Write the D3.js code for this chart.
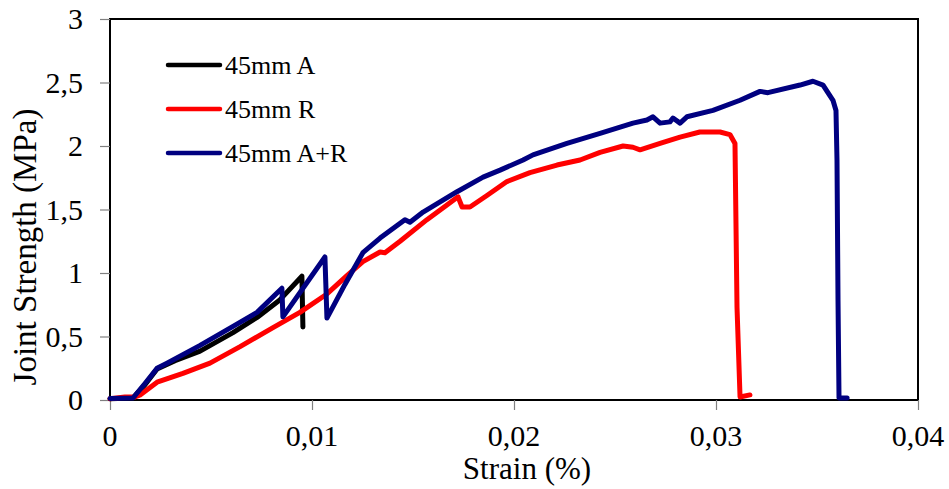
<!DOCTYPE html>
<html>
<head>
<meta charset="utf-8">
<script src="https://cdn.jsdelivr.net/npm/d3@7/dist/d3.min.js"></script>
<style>
  html, body { margin: 0; padding: 0; background: #fff; }
  svg { display: block; }
</style>
</head>
<body>
<svg id="chart" width="949" height="489"></svg>
<script>
// ---------- data ----------
const seriesNames = ["45mm A", "45mm R", "45mm A+R"];
const seriesColors = ["#000000", "#ff0000", "#000080"];

const strainA   = [0, 0.00114, 0.00173, 0.00233, 0.00322, 0.00446, 0.00609, 0.00728, 0.00842, 0.0095, 0.00955];
const strengthA = [0.01, 0.016, 0.12, 0.245, 0.31, 0.385, 0.53, 0.65, 0.79, 0.975, 0.575];

const strainR   = [0, 0.00074, 0.00124, 0.00149, 0.00233, 0.00361, 0.00495, 0.00644, 0.00807, 0.0094, 0.01074, 0.01173, 0.01252, 0.01337, 0.01361, 0.01436, 0.01569, 0.01668, 0.01723, 0.01743, 0.01782, 0.01866, 0.01965, 0.02079, 0.02213, 0.02327, 0.02426, 0.0254, 0.02589, 0.02624, 0.02723, 0.02822, 0.0292, 0.0302, 0.03069, 0.03094, 0.03104, 0.03119, 0.03168];
const strengthR = [0.01, 0.024, 0.024, 0.04, 0.14, 0.21, 0.29, 0.42, 0.57, 0.69, 0.835, 0.98, 1.09, 1.165, 1.16, 1.25, 1.42, 1.535, 1.60, 1.52, 1.52, 1.61, 1.72, 1.79, 1.85, 1.89, 1.95, 2.0, 1.99, 1.97, 2.02, 2.07, 2.11, 2.11, 2.09, 2.02, 0.73, 0.024, 0.04];

const strainAR   = [0, 0.00114, 0.00173, 0.00233, 0.00282, 0.00446, 0.00609, 0.00728, 0.00851, 0.00856, 0.01064, 0.01074, 0.01163, 0.01252, 0.01337, 0.0146, 0.01485, 0.0155, 0.01718, 0.01847, 0.01931, 0.02045, 0.02094, 0.02262, 0.02426, 0.02589, 0.02658, 0.02688, 0.02723, 0.02772, 0.02787, 0.02822, 0.02856, 0.02985, 0.03119, 0.03218, 0.03257, 0.03416, 0.0348, 0.0353, 0.03554, 0.03579, 0.03594, 0.03599, 0.03604, 0.03609, 0.03649];
const strengthAR = [0.012, 0.016, 0.13, 0.25, 0.29, 0.43, 0.58, 0.69, 0.88, 0.655, 1.126, 0.645, 0.91, 1.16, 1.275, 1.42, 1.40, 1.48, 1.64, 1.755, 1.81, 1.89, 1.93, 2.02, 2.10, 2.18, 2.205, 2.23, 2.18, 2.19, 2.22, 2.18, 2.23, 2.28, 2.36, 2.43, 2.42, 2.48, 2.51, 2.48, 2.42, 2.36, 2.28, 1.89, 0.79, 0.016, 0.016];

const xTicks = [0, 0.01, 0.02, 0.03, 0.04];
const xTickLabels = ["0", "0,01", "0,02", "0,03", "0,04"];
const yTicks = [0, 0.5, 1, 1.5, 2, 2.5, 3];
const yTickLabels = ["0", "0,5", "1", "1,5", "2", "2,5", "3"];

const xTitle = "Strain (%)";
const yTitle = "Joint Strength (MPa)";

// ---------- layout ----------
const FONT = "Liberation Serif";
const svg = d3.select("#chart").attr("font-family", FONT);
const plot = { left: 110, right: 918, top: 19, bottom: 400 };

const x = d3.scaleLinear().domain([0, 0.04]).range([plot.left, plot.right]);
const y = d3.scaleLinear().domain([0, 3]).range([plot.bottom, plot.top]);

// plot frame
svg.append("rect")
  .attr("x", plot.left).attr("y", plot.top)
  .attr("width", plot.right - plot.left).attr("height", plot.bottom - plot.top)
  .attr("fill", "none").attr("stroke", "#000").attr("stroke-width", 2);

// axes: tick marks from d3 axis generators, labels as text elements
const xAxis = d3.axisBottom(x).tickValues(xTicks).tickFormat("").tickSize(10);
const yAxis = d3.axisLeft(y).tickValues(yTicks).tickFormat("").tickSize(10);
const gx = svg.append("g").attr("transform", `translate(0,${plot.bottom})`).call(xAxis);
const gy = svg.append("g").attr("transform", `translate(${plot.left},0)`).call(yAxis);
[gx, gy].forEach(g => {
  g.select(".domain").remove();
  g.selectAll(".tick text").remove();
  g.selectAll(".tick line").attr("stroke", "#808080").attr("stroke-width", 1.2);
});

svg.append("g").selectAll("text").data(xTicks).join("text")
  .attr("x", d => x(d)).attr("y", plot.bottom + 46)
  .attr("text-anchor", "middle")
  .attr("font-family", FONT).attr("font-size", 30).attr("fill", "#000")
  .text((d, i) => xTickLabels[i]);

svg.append("g").selectAll("text").data(yTicks).join("text")
  .attr("x", 83).attr("y", d => y(d) + 10)
  .attr("text-anchor", "end")
  .attr("font-family", FONT).attr("font-size", 30).attr("fill", "#000")
  .text((d, i) => yTickLabels[i]);

// series
const series = [
  { xs: strainA, ys: strengthA },
  { xs: strainR, ys: strengthR },
  { xs: strainAR, ys: strengthAR }
];
const line = d3.line().x(d => x(d[0])).y(d => y(d[1]));
series.forEach((s, i) => {
  const pts = s.xs.map((v, j) => [v, s.ys[j]]);
  svg.append("path").datum(pts)
    .attr("d", line)
    .attr("fill", "none")
    .attr("stroke", seriesColors[i])
    .attr("stroke-width", 5)
    .attr("stroke-linejoin", "round")
    .attr("stroke-linecap", "round");
});

// legend
const legend = svg.append("g");
seriesNames.forEach((name, i) => {
  const ly = 65 + i * 44;
  legend.append("line")
    .attr("x1", 168).attr("x2", 220).attr("y1", ly).attr("y2", ly)
    .attr("stroke", seriesColors[i]).attr("stroke-width", 4.5)
    .attr("stroke-linecap", "round");
  legend.append("text")
    .attr("x", 225).attr("y", ly + 8.5)
    .attr("font-family", FONT).attr("font-size", 26).attr("fill", "#000")
    .text(name);
});

// axis titles
svg.append("text")
  .attr("x", 527).attr("y", 479)
  .attr("text-anchor", "middle")
  .attr("font-family", FONT).attr("font-size", 31).attr("fill", "#000")
  .text(xTitle);

svg.append("text")
  .attr("transform", "translate(36,247) rotate(-90)")
  .attr("text-anchor", "middle")
  .attr("font-family", FONT).attr("font-size", 33).attr("fill", "#000")
  .text(yTitle);
</script>
</body>
</html>
